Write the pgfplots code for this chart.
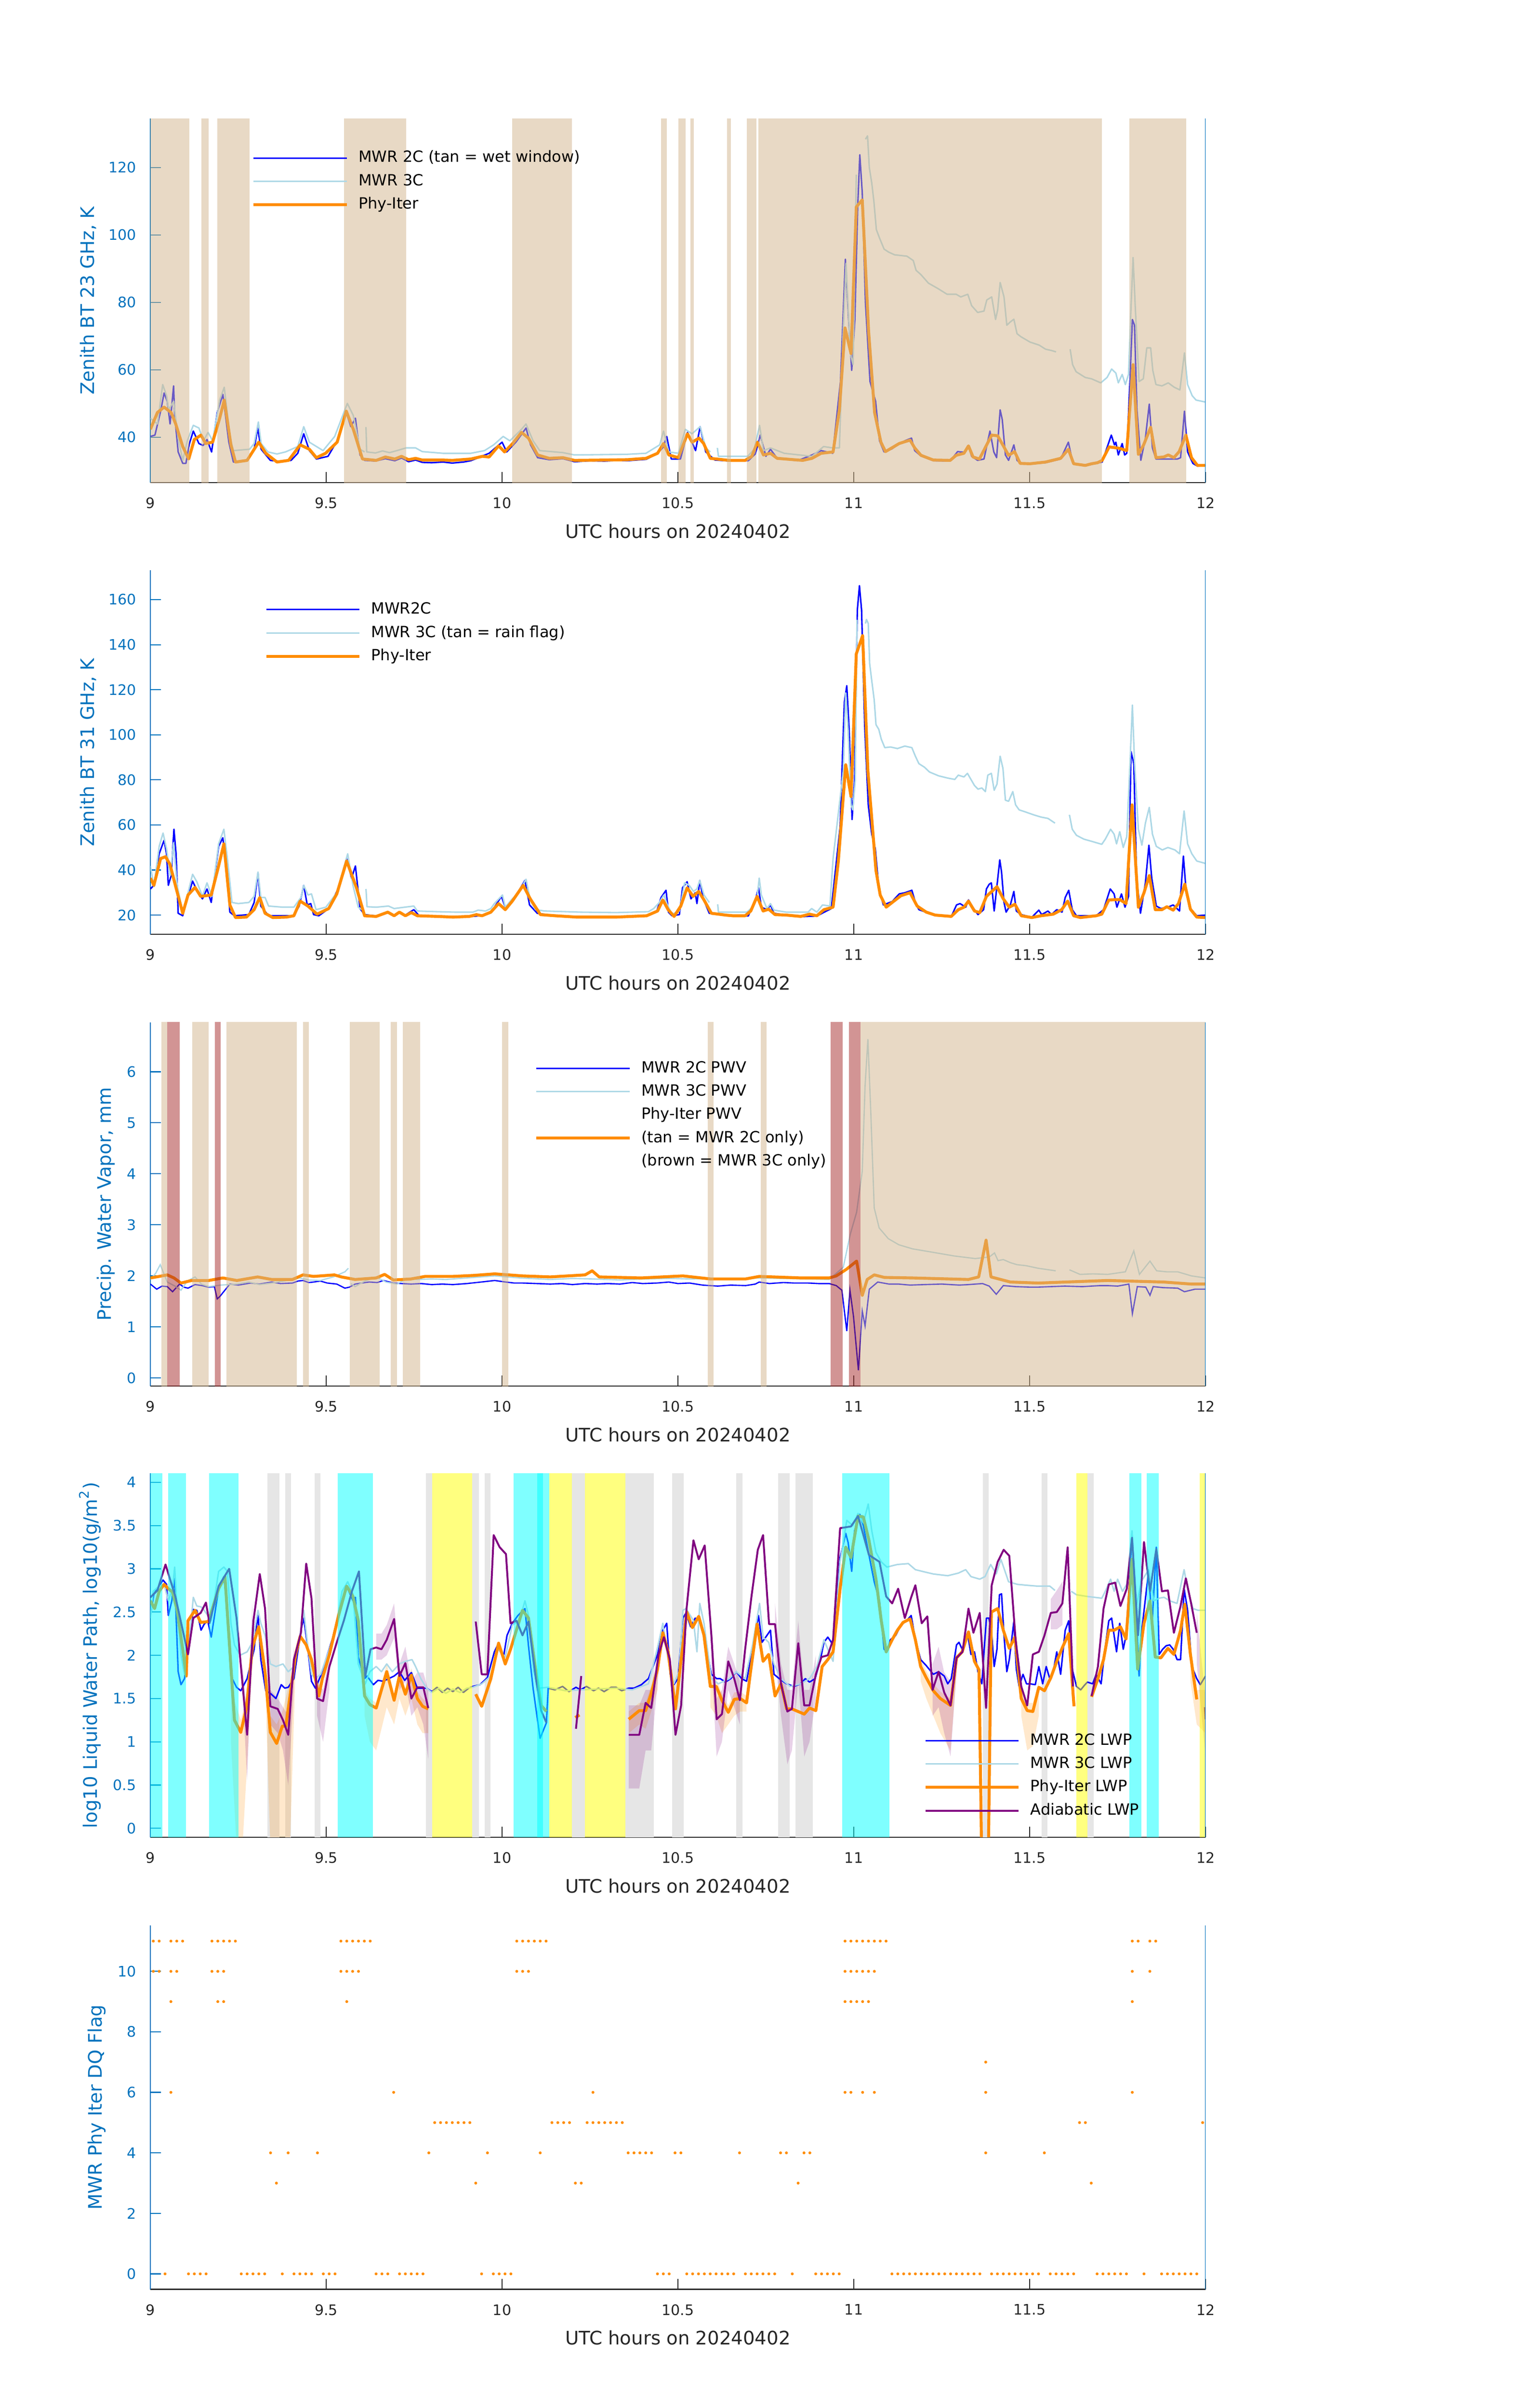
\documentclass[border=0pt]{standalone}
\usepackage{fontspec}
\setmainfont{DejaVu Sans}
\usepackage{pgfplots}
\pgfplotsset{compat=1.18}
\definecolor{mlblue}{RGB}{0,114,189}
\definecolor{axgray}{RGB}{38,38,38}
\definecolor{lb}{RGB}{173,216,230}
\definecolor{dorange}{RGB}{255,140,0}
\definecolor{tanc}{RGB}{210,180,140}
\definecolor{brownc}{RGB}{165,42,42}
\definecolor{purp}{RGB}{128,0,128}
\definecolor{gray9}{RGB}{230,230,230}
\definecolor{cyanc}{RGB}{0,255,255}
\definecolor{yellowc}{RGB}{255,255,0}
\definecolor{pureblue}{RGB}{0,0,255}
\tikzset{tanf/.style={fill=tanc,fill opacity=0.5},
 brf/.style={fill=brownc,fill opacity=0.5},
 cyf/.style={fill=cyanc,fill opacity=0.5},
 yef/.style={fill=yellowc,fill opacity=0.5},
 grf/.style={fill=gray9},
 obf/.style={fill=dorange,fill opacity=0.2},
 pbf/.style={fill=purp,fill opacity=0.18}}
\newcommand{\band}[3]{\addplot[#3,draw=none,forget plot] coordinates {(#1,\ylo) (#2,\ylo) (#2,\yhi) (#1,\yhi)} -- cycle;}
\pgfplotsset{
 mlax/.style={
  scale only axis, width=17.52cm, height=6.045cm,
  xmin=9, xmax=12, xtick={9,9.5,10,10.5,11,11.5,12},
  axis x line*=bottom, axis y line*=left,
  x axis line style={-,axgray,line width=0.5pt},
  y axis line style={-,mlblue,line width=0.5pt},
  tick align=inside, major tick length=5pt,
  xtick style={axgray,line width=0.5pt},
  ytick style={mlblue,line width=0.5pt},
  tick label style={font=\fontsize{6.85}{8}\selectfont},
  x tick label style={text=axgray,yshift=-3.6pt},
  y tick label style={text=mlblue,xshift=-3.2pt},
  /pgf/number format/assume math mode=true,
  xlabel={UTC hours on 20240402},
  xlabel style={font=\fontsize{8.8}{10}\selectfont,text=axgray,at={(axis description cs:0.5,0)},anchor=north,yshift=-16pt},
  ylabel style={font=\fontsize{8.8}{10}\selectfont,text=mlblue,yshift=-1.2pt},
  unbounded coords=jump,
  legend cell align=left,
  legend style={draw=none,fill=none,font=\fontsize{7.3}{8.5}\selectfont,inner sep=0pt,row sep=0.8pt,
    nodes={inner sep=1.5pt,text height=5.6pt,text depth=1.6pt},
    /tikz/every odd column/.append style={column sep=3.3pt}},
  legend image code/.code={\draw[##1] (0cm,0cm) -- (1.55cm,0cm);},
 },
 bl/.style={pureblue,line width=0.7pt,line join=round},
 lbl/.style={lb,line width=0.7pt,line join=round},
 orl/.style={dorange,line width=1.4pt,line join=round},
 pul/.style={purp,line width=0.9pt,line join=round},
}
\begin{document}
\begin{tikzpicture}
\path[use as bounding box] (0,0) rectangle (25.5cm,40cm);

% ---------------- Panel 1 ----------------
\def\ylo{20}\def\yhi{140}
\begin{axis}[mlax, at={(2.497cm,31.983cm)}, anchor=south west,
  ymin=26.5, ymax=134.5, ytick={40,60,80,100,120},
  ylabel={Zenith BT 23 GHz, K},
  legend style={at={(0.096,1)},anchor=north west,yshift=-13.3pt}]
\addplot[bl] coordinates {(9.0,40.2)(9.013,40.6)(9.03,48.1)(9.039,53.1)(9.048,50.6)(9.056,43.9)(9.066,55.2)(9.069,46.4)(9.079,35.6)(9.092,32.2)(9.101,32.2)(9.111,38.1)(9.122,41.8)(9.138,38.1)(9.15,37.5)(9.161,39.3)(9.174,35.6)(9.19,47.3)(9.206,52.7)(9.223,38.5)(9.236,32.6)(9.275,33.1)(9.295,36.4)(9.305,42.7)(9.315,36.4)(9.341,33.1)(9.37,32.8)(9.4,33.1)(9.419,35.2)(9.436,41.0)(9.452,36.0)(9.472,33.5)(9.505,34.3)(9.531,38.9)(9.557,47.3)(9.57,43.1)(9.583,45.6)(9.596,34.7)(9.609,33.1)(9.64,32.9)(9.668,33.6)(9.695,33.0)(9.714,33.8)(9.734,32.7)(9.754,33.2)(9.773,32.5)(9.8,32.4)(9.832,32.6)(9.858,32.3)(9.89,32.6)(9.911,33.0)(9.935,34.0)(9.963,35.2)(10.0,38.5)(10.013,35.6)(10.04,38.6)(10.068,42.7)(10.081,37.7)(10.101,33.9)(10.134,33.3)(10.173,33.6)(10.206,32.7)(10.25,33.0)(10.291,32.9)(10.33,33.1)(10.356,33.0)(10.409,33.4)(10.44,35.0)(10.458,37.0)(10.468,40.2)(10.481,33.5)(10.507,33.5)(10.527,41.4)(10.54,38.5)(10.55,36.0)(10.563,43.1)(10.579,35.6)(10.605,33.2)(10.65,32.9)(10.7,33.0)(10.72,35.0)(10.734,40.6)(10.75,34.3)(10.763,36.4)(10.782,33.7)(10.84,33.0)(10.881,34.7)(10.907,36.0)(10.94,35.2)(10.962,56.5)(10.976,92.8)(10.985,74.9)(10.994,59.8)(11.003,74.9)(11.011,108.3)(11.017,123.8)(11.024,112.5)(11.033,79.9)(11.046,56.5)(11.062,50.6)(11.073,38.9)(11.086,35.6)(11.108,36.5)(11.129,38.0)(11.147,39.0)(11.164,39.7)(11.173,36.0)(11.191,34.4)(11.226,33.0)(11.274,32.9)(11.295,35.7)(11.313,35.5)(11.326,37.4)(11.335,34.3)(11.352,33.1)(11.37,33.5)(11.387,41.8)(11.398,35.6)(11.406,33.9)(11.416,48.1)(11.422,45.2)(11.431,34.7)(11.44,33.1)(11.455,37.7)(11.464,33.1)(11.475,32.2)(11.501,32.0)(11.545,32.4)(11.588,33.5)(11.61,38.5)(11.623,32.2)(11.658,31.5)(11.706,32.6)(11.732,40.6)(11.741,37.7)(11.745,38.5)(11.752,34.7)(11.763,38.1)(11.77,34.7)(11.776,35.2)(11.785,56.5)(11.792,74.9)(11.798,73.2)(11.805,48.1)(11.816,33.1)(11.829,39.7)(11.84,49.8)(11.849,36.8)(11.859,33.5)(11.92,33.5)(11.929,33.9)(11.94,47.7)(11.949,35.6)(11.964,32.2)(11.977,31.4)(12.0,31.6)};
\addlegendentry{MWR 2C (tan = wet window)}
\addplot[lbl] coordinates {(9.0,45.6)(9.02,43.9)(9.035,55.6)(9.046,52.3)(9.052,48.1)(9.066,50.6)(9.079,39.7)(9.092,33.1)(9.105,38.9)(9.122,43.5)(9.138,42.7)(9.151,38.9)(9.164,41.4)(9.177,38.9)(9.197,51.0)(9.21,54.8)(9.227,39.7)(9.236,36.0)(9.282,36.4)(9.295,38.1)(9.307,44.5)(9.315,38.1)(9.334,35.6)(9.36,35.0)(9.384,35.6)(9.419,37.2)(9.436,43.1)(9.452,38.5)(9.491,36.0)(9.524,40.2)(9.56,50.0)(9.577,46.4)(9.596,36.4)(9.609,35.6)(9.612,nan)(9.613,43.0)(9.615,35.6)(9.64,35.3)(9.66,35.9)(9.68,35.4)(9.701,36.0)(9.727,36.8)(9.754,36.8)(9.773,35.7)(9.832,35.2)(9.911,35.2)(9.95,36.0)(9.976,37.7)(10.003,40.2)(10.022,38.9)(10.055,42.3)(10.068,43.9)(10.088,38.9)(10.107,36.0)(10.173,35.4)(10.206,34.7)(10.356,34.9)(10.409,35.2)(10.448,37.7)(10.459,41.8)(10.474,35.6)(10.501,35.2)(10.521,42.3)(10.54,41.0)(10.563,43.1)(10.579,36.8)(10.592,35.6)(10.6,nan)(10.612,36.8)(10.615,34.3)(10.698,34.3)(10.717,36.4)(10.732,43.5)(10.743,36.0)(10.763,36.8)(10.802,35.2)(10.881,34.3)(10.914,37.2)(10.94,36.8)(10.959,36.8)(10.969,69.0)(10.978,91.6)(10.99,64.8)(10.998,61.5)(11.007,117.9)(11.02,nan)(11.033,128.4)(11.039,129.4)(11.044,120.0)(11.051,115.4)(11.057,110.0)(11.064,101.6)(11.073,99.1)(11.086,95.8)(11.099,94.9)(11.116,94.1)(11.151,93.7)(11.169,92.4)(11.177,89.5)(11.191,88.2)(11.212,85.7)(11.239,84.1)(11.265,82.4)(11.291,82.4)(11.304,81.6)(11.324,82.4)(11.335,79.0)(11.352,77.0)(11.37,77.4)(11.378,80.7)(11.392,81.6)(11.403,74.9)(11.409,77.8)(11.416,85.9)(11.427,81.6)(11.435,73.2)(11.444,74.1)(11.455,75.0)(11.464,70.7)(11.475,69.8)(11.501,68.2)(11.527,67.3)(11.545,66.1)(11.562,65.7)(11.575,65.3)(11.595,nan)(11.615,66.1)(11.622,61.5)(11.632,59.4)(11.658,57.7)(11.676,57.3)(11.702,56.1)(11.72,57.7)(11.733,60.2)(11.745,59.0)(11.752,56.1)(11.763,58.6)(11.772,55.6)(11.781,58.6)(11.788,78.2)(11.794,93.3)(11.8,79.0)(11.811,56.5)(11.823,57.3)(11.833,66.5)(11.844,66.5)(11.85,59.8)(11.859,55.6)(11.876,55.2)(11.894,56.1)(11.911,54.8)(11.927,54.0)(11.94,65.0)(11.949,55.6)(11.962,52.3)(11.973,51.0)(12.0,50.4)};
\addlegendentry{MWR 3C}
\addplot[orl] coordinates {(9.0,42.3)(9.02,47.3)(9.039,48.9)(9.059,47.3)(9.072,43.9)(9.092,37.2)(9.109,33.5)(9.125,39.3)(9.144,40.6)(9.157,38.1)(9.177,38.5)(9.197,45.6)(9.21,51.0)(9.229,37.7)(9.242,32.6)(9.275,33.1)(9.308,38.5)(9.328,35.2)(9.36,32.6)(9.393,33.1)(9.426,37.7)(9.452,36.4)(9.472,33.9)(9.498,35.2)(9.531,38.5)(9.557,47.7)(9.577,42.3)(9.603,33.5)(9.642,33.1)(9.668,34.1)(9.695,33.5)(9.714,34.3)(9.734,33.3)(9.754,33.7)(9.773,33.2)(9.832,33.2)(9.858,33.1)(9.911,33.5)(9.944,34.3)(9.963,34.1)(9.99,37.4)(10.007,35.6)(10.03,38.1)(10.055,41.4)(10.075,39.7)(10.101,34.7)(10.134,33.7)(10.173,33.9)(10.206,33.1)(10.291,33.2)(10.356,33.3)(10.409,33.7)(10.442,35.2)(10.459,38.1)(10.474,34.7)(10.501,33.9)(10.527,41.0)(10.54,38.5)(10.56,39.7)(10.573,38.1)(10.592,33.7)(10.645,33.1)(10.691,33.1)(10.71,34.3)(10.726,38.5)(10.743,34.7)(10.763,35.2)(10.782,33.7)(10.841,33.2)(10.855,33.1)(10.881,33.7)(10.907,35.2)(10.941,35.6)(10.959,48.1)(10.975,72.4)(10.992,64.8)(11.007,108.3)(11.024,110.4)(11.042,71.5)(11.059,47.3)(11.077,38.5)(11.09,35.7)(11.108,36.8)(11.129,38.1)(11.147,38.7)(11.16,39.1)(11.173,36.8)(11.191,34.6)(11.226,33.2)(11.274,33.1)(11.291,34.6)(11.313,35.2)(11.326,37.4)(11.339,34.1)(11.357,33.5)(11.392,40.6)(11.409,40.4)(11.44,34.6)(11.457,35.7)(11.473,32.2)(11.501,32.1)(11.545,32.6)(11.588,33.7)(11.61,36.4)(11.625,32.1)(11.658,31.6)(11.676,32.1)(11.693,32.4)(11.706,33.1)(11.726,37.1)(11.754,36.7)(11.776,36.0)(11.794,61.5)(11.809,34.9)(11.824,37.7)(11.844,42.9)(11.859,33.9)(11.881,34.1)(11.894,34.7)(11.91,33.9)(11.925,35.7)(11.944,40.6)(11.96,33.9)(11.977,31.6)(12.0,31.6)};
\addlegendentry{Phy-Iter}
\band{9.0}{9.111}{tanf}\band{9.145}{9.166}{tanf}\band{9.19}{9.282}{tanf}\band{9.55}{9.727}{tanf}
\band{10.029}{10.199}{tanf}\band{10.452}{10.468}{tanf}\band{10.501}{10.522}{tanf}\band{10.535}{10.545}{tanf}
\band{10.64}{10.651}{tanf}\band{10.696}{10.723}{tanf}\band{10.729}{11.705}{tanf}\band{11.784}{11.945}{tanf}
\draw[mlblue,line width=0.5pt] (rel axis cs:1,0) -- (rel axis cs:1,1);
\end{axis}

% ---------------- Panel 2 ----------------
\begin{axis}[mlax, at={(2.497cm,24.481cm)}, anchor=south west,
  ymin=11.5, ymax=173, ytick={20,40,60,80,100,120,140,160},
  ylabel={Zenith BT 31 GHz, K},
  legend style={at={(0.108,1)},anchor=north west,yshift=-13.3pt}]
\addplot[bl] coordinates {(9.0,31.6)(9.01,33.2)(9.025,47.2)(9.039,53.2)(9.046,47.2)(9.051,33.2)(9.059,37.5)(9.067,58.1)(9.073,47.2)(9.079,20.8)(9.092,19.7)(9.102,25.6)(9.12,35.1)(9.132,31.0)(9.148,27.2)(9.161,31.6)(9.173,25.6)(9.194,50.5)(9.206,54.3)(9.216,41.8)(9.226,21.3)(9.239,19.7)(9.28,20.2)(9.295,25.6)(9.306,38.6)(9.314,24.0)(9.336,19.7)(9.408,19.7)(9.423,24.0)(9.436,33.2)(9.446,24.5)(9.456,25.1)(9.464,20.2)(9.479,19.7)(9.507,22.9)(9.535,32.1)(9.558,45.1)(9.572,36.4)(9.583,41.8)(9.596,22.9)(9.609,20.2)(9.642,19.6)(9.675,21.0)(9.693,19.9)(9.708,21.0)(9.725,20.0)(9.749,22.4)(9.764,19.7)(9.815,19.3)(9.861,19.0)(9.907,19.3)(9.943,19.8)(9.968,21.0)(9.998,28.3)(10.009,23.5)(10.029,25.8)(10.065,35.4)(10.078,24.5)(10.1,20.8)(10.151,19.6)(10.212,19.0)(10.324,19.0)(10.411,19.6)(10.44,21.8)(10.452,27.8)(10.466,31.0)(10.473,21.3)(10.483,19.7)(10.504,20.2)(10.513,32.1)(10.526,34.8)(10.537,27.2)(10.549,29.9)(10.554,25.1)(10.562,35.4)(10.572,27.2)(10.589,20.8)(10.635,19.9)(10.7,19.6)(10.722,27.8)(10.729,32.1)(10.737,23.5)(10.753,22.4)(10.763,24.5)(10.773,20.8)(10.808,19.9)(10.849,19.3)(10.895,19.6)(10.936,22.9)(10.961,59.1)(10.973,114.3)(10.98,121.8)(10.987,101.3)(10.995,62.4)(11.002,79.7)(11.01,155.4)(11.016,166.2)(11.022,155.4)(11.031,103.5)(11.041,68.9)(11.051,55.9)(11.061,49.4)(11.071,32.1)(11.084,24.5)(11.109,26.0)(11.129,29.4)(11.145,29.9)(11.165,31.0)(11.175,25.6)(11.185,22.4)(11.231,19.9)(11.277,19.3)(11.292,24.5)(11.302,25.1)(11.318,23.5)(11.326,26.7)(11.338,23.5)(11.353,20.2)(11.369,22.4)(11.377,31.6)(11.385,33.7)(11.391,34.3)(11.399,21.8)(11.406,31.6)(11.415,44.5)(11.42,39.1)(11.427,25.6)(11.433,21.3)(11.445,24.5)(11.455,30.5)(11.462,21.8)(11.476,20.2)(11.506,19.0)(11.526,22.2)(11.534,20.2)(11.552,21.8)(11.562,20.2)(11.577,22.4)(11.592,21.3)(11.601,27.8)(11.611,31.0)(11.621,22.4)(11.633,19.7)(11.689,19.7)(11.71,22.4)(11.729,31.6)(11.74,29.4)(11.748,23.5)(11.761,29.4)(11.771,23.5)(11.781,28.3)(11.788,92.6)(11.796,87.2)(11.804,36.4)(11.815,20.8)(11.829,34.3)(11.839,51.0)(11.847,36.4)(11.86,24.0)(11.873,22.9)(11.893,23.5)(11.908,24.5)(11.926,21.8)(11.937,46.2)(11.944,32.1)(11.954,23.5)(11.975,19.7)(12.0,20.0)};
\addlegendentry{MWR2C}
\addplot[lbl] coordinates {(9.0,41.8)(9.01,32.6)(9.025,50.5)(9.036,56.4)(9.046,49.4)(9.056,37.5)(9.066,52.1)(9.076,33.2)(9.092,21.3)(9.107,29.9)(9.12,38.1)(9.132,34.8)(9.148,28.3)(9.161,34.3)(9.175,28.3)(9.194,51.6)(9.209,58.1)(9.22,43.5)(9.232,25.6)(9.25,25.1)(9.28,25.6)(9.295,28.3)(9.306,39.1)(9.314,27.8)(9.326,27.8)(9.336,24.0)(9.377,23.5)(9.408,23.5)(9.428,27.8)(9.436,33.2)(9.448,28.9)(9.458,29.4)(9.471,22.4)(9.499,23.5)(9.53,29.9)(9.561,47.2)(9.576,33.2)(9.591,23.5)(9.605,22.0)(9.61,nan)(9.613,31.6)(9.616,23.7)(9.642,23.5)(9.677,24.0)(9.693,22.9)(9.723,23.5)(9.749,24.0)(9.759,21.8)(9.815,21.5)(9.866,21.3)(9.917,21.3)(9.932,22.2)(9.953,21.8)(9.968,22.9)(9.978,25.1)(10.001,28.9)(10.009,23.5)(10.029,27.2)(10.045,29.4)(10.068,35.9)(10.08,26.7)(10.095,22.4)(10.121,21.8)(10.223,21.3)(10.324,21.1)(10.416,21.5)(10.431,22.9)(10.447,25.6)(10.46,28.9)(10.47,24.5)(10.483,20.4)(10.504,21.8)(10.519,34.3)(10.532,33.2)(10.544,30.5)(10.554,31.6)(10.562,35.4)(10.574,28.9)(10.589,25.6)(10.6,nan)(10.613,24.8)(10.615,21.3)(10.666,21.3)(10.696,21.3)(10.712,23.5)(10.725,27.8)(10.731,36.4)(10.737,28.9)(10.753,22.9)(10.763,25.1)(10.773,22.2)(10.808,21.3)(10.87,21.3)(10.88,22.9)(10.895,21.3)(10.911,24.5)(10.932,24.0)(10.941,45.1)(10.97,84.0)(10.977,118.6)(10.984,101.3)(10.992,68.9)(10.997,66.7)(11.004,79.7)(11.009,151.0)(11.02,nan)(11.033,149.4)(11.036,151.2)(11.041,149.4)(11.045,131.6)(11.051,124.0)(11.058,115.4)(11.063,104.5)(11.071,102.4)(11.078,98.1)(11.088,94.3)(11.104,94.6)(11.124,93.9)(11.145,95.0)(11.165,94.3)(11.175,90.5)(11.185,87.2)(11.201,85.6)(11.215,83.5)(11.241,81.8)(11.267,80.8)(11.287,80.2)(11.297,82.1)(11.313,81.3)(11.323,82.9)(11.333,80.2)(11.343,77.5)(11.353,75.9)(11.364,76.4)(11.374,74.8)(11.381,82.1)(11.391,82.9)(11.399,75.4)(11.407,78.1)(11.416,90.5)(11.424,85.1)(11.431,71.0)(11.44,70.5)(11.452,74.8)(11.46,68.9)(11.47,66.7)(11.491,65.6)(11.511,64.5)(11.532,63.5)(11.552,62.9)(11.572,60.8)(11.59,nan)(11.613,64.5)(11.621,58.1)(11.633,55.4)(11.654,53.7)(11.679,52.6)(11.705,51.4)(11.715,53.7)(11.73,58.1)(11.74,55.9)(11.747,51.6)(11.756,57.0)(11.766,50.0)(11.776,54.8)(11.786,90.5)(11.792,113.2)(11.798,88.3)(11.809,58.1)(11.819,51.0)(11.829,60.8)(11.84,67.8)(11.849,55.9)(11.86,50.5)(11.877,48.9)(11.893,50.0)(11.913,48.9)(11.926,47.2)(11.939,66.2)(11.949,51.6)(11.961,47.2)(11.975,44.0)(12.0,42.9)};
\addlegendentry{MWR 3C (tan = rain flag)}
\addplot[orl] coordinates {(9.0,36.4)(9.01,33.2)(9.029,45.1)(9.043,45.9)(9.056,42.4)(9.071,33.2)(9.092,20.8)(9.107,28.9)(9.127,32.3)(9.143,28.3)(9.173,28.9)(9.194,41.8)(9.209,51.6)(9.226,24.5)(9.242,18.9)(9.273,19.1)(9.295,22.4)(9.311,27.8)(9.326,20.8)(9.348,18.9)(9.387,19.1)(9.408,19.7)(9.426,26.2)(9.448,24.0)(9.474,20.4)(9.507,22.9)(9.53,29.4)(9.558,44.0)(9.586,32.1)(9.609,19.7)(9.642,19.4)(9.675,21.3)(9.693,19.7)(9.708,21.3)(9.725,19.7)(9.742,21.1)(9.759,19.7)(9.815,19.4)(9.861,19.1)(9.907,19.4)(9.927,20.2)(9.943,19.7)(9.968,21.3)(9.99,25.1)(10.009,22.4)(10.029,26.2)(10.06,33.2)(10.08,27.2)(10.109,20.2)(10.151,19.7)(10.212,19.1)(10.324,19.1)(10.411,19.7)(10.442,21.8)(10.457,26.7)(10.472,22.4)(10.489,19.4)(10.508,24.0)(10.526,32.1)(10.543,28.3)(10.559,30.5)(10.574,26.7)(10.595,20.8)(10.635,20.0)(10.656,19.7)(10.691,19.7)(10.707,21.8)(10.725,28.3)(10.742,21.8)(10.758,22.6)(10.776,20.2)(10.808,20.0)(10.849,19.4)(10.874,20.4)(10.895,19.7)(10.915,22.4)(10.941,23.5)(10.956,44.0)(10.977,86.7)(10.992,72.6)(11.007,135.9)(11.025,144.0)(11.04,84.0)(11.063,39.7)(11.075,28.9)(11.092,23.5)(11.109,25.6)(11.134,28.6)(11.16,29.9)(11.18,24.0)(11.206,21.3)(11.231,20.0)(11.277,19.4)(11.297,22.4)(11.313,23.5)(11.326,26.2)(11.343,21.8)(11.358,21.1)(11.377,28.3)(11.407,32.6)(11.425,27.2)(11.442,23.5)(11.458,24.8)(11.476,19.7)(11.506,18.9)(11.532,19.7)(11.567,20.4)(11.591,22.4)(11.608,26.2)(11.625,19.7)(11.644,18.9)(11.689,19.7)(11.705,20.4)(11.725,26.7)(11.756,26.9)(11.774,25.1)(11.791,68.9)(11.809,23.5)(11.825,29.9)(11.84,37.5)(11.857,22.4)(11.876,22.4)(11.89,23.7)(11.908,22.2)(11.923,25.1)(11.941,33.7)(11.957,22.6)(11.975,19.1)(12.0,18.9)};
\addlegendentry{Phy-Iter}
\draw[mlblue,line width=0.5pt] (rel axis cs:1,0) -- (rel axis cs:1,1);
\end{axis}

% ---------------- Panel 3 ----------------
\def\ylo{-1}\def\yhi{8}
\begin{axis}[mlax, at={(2.497cm,16.974cm)}, anchor=south west,
  ymin=-0.16, ymax=6.97, ytick={0,1,2,3,4,5,6},
  ylabel={Precip. Water Vapor, mm},
  legend style={at={(0.364,1)},anchor=north west,yshift=-16.5pt}]
\addplot[pureblue,line width=0.6pt,forget plot] coordinates {(9.0,1.84)(9.018,1.74)(9.033,1.80)(9.048,1.79)(9.063,1.69)(9.083,1.84)(9.095,1.78)(9.107,1.76)(9.127,1.83)(9.147,1.81)(9.165,1.78)(9.182,1.79)(9.19,1.55)(9.198,1.60)(9.206,1.67)(9.226,1.84)(9.25,1.82)(9.285,1.86)(9.31,1.84)(9.345,1.88)(9.37,1.85)(9.404,1.86)(9.42,1.90)(9.434,1.91)(9.45,1.87)(9.464,1.88)(9.483,1.90)(9.503,1.86)(9.53,1.84)(9.553,1.76)(9.566,1.78)(9.582,1.84)(9.6,1.86)(9.622,1.88)(9.645,1.87)(9.662,1.91)(9.68,1.88)(9.691,1.86)(9.715,1.85)(9.741,1.84)(9.77,1.85)(9.8,1.83)(9.83,1.84)(9.86,1.83)(9.9,1.85)(9.94,1.88)(9.979,1.91)(10.01,1.88)(10.035,1.86)(10.058,1.86)(10.1,1.85)(10.137,1.84)(10.17,1.85)(10.2,1.83)(10.236,1.85)(10.27,1.84)(10.3,1.85)(10.335,1.84)(10.37,1.87)(10.4,1.85)(10.44,1.86)(10.474,1.88)(10.5,1.85)(10.533,1.86)(10.57,1.82)(10.613,1.80)(10.65,1.82)(10.692,1.81)(10.72,1.84)(10.731,1.88)(10.76,1.85)(10.8,1.87)(10.831,1.86)(10.87,1.86)(10.9,1.85)(10.93,1.85)(10.95,1.81)(10.966,1.72)(10.98,0.92)(10.989,1.72)(10.999,1.21)(11.013,0.15)(11.024,1.31)(11.032,1.02)(11.044,1.74)(11.068,1.88)(11.1,1.84)(11.127,1.84)(11.16,1.82)(11.2,1.83)(11.25,1.84)(11.3,1.82)(11.326,1.83)(11.366,1.85)(11.385,1.80)(11.405,1.64)(11.425,1.81)(11.46,1.79)(11.5,1.78)(11.524,1.78)(11.56,1.79)(11.6,1.80)(11.65,1.79)(11.7,1.81)(11.722,1.81)(11.75,1.80)(11.782,1.84)(11.792,1.26)(11.806,1.79)(11.83,1.78)(11.842,1.62)(11.851,1.79)(11.88,1.77)(11.921,1.76)(11.94,1.69)(11.97,1.74)(12.0,1.74)};
\addplot[lb,line width=0.6pt,forget plot] coordinates {(9.0,1.93)(9.015,2.05)(9.028,2.22)(9.048,1.88)(9.07,1.80)(9.087,1.72)(9.105,1.90)(9.127,1.98)(9.145,1.84)(9.166,1.79)(9.2,1.82)(9.246,1.84)(9.28,1.88)(9.31,1.83)(9.345,1.86)(9.38,1.90)(9.424,1.96)(9.45,1.92)(9.483,1.91)(9.52,1.98)(9.553,2.08)(9.563,2.15)(9.566,nan)(9.57,1.85)(9.582,1.79)(9.61,1.90)(9.642,1.98)(9.67,1.88)(9.701,1.84)(9.73,1.95)(9.761,1.93)(9.8,1.94)(9.84,1.93)(9.9,1.96)(9.979,2.00)(10.05,1.96)(10.137,1.93)(10.2,1.95)(10.26,1.94)(10.335,1.92)(10.4,1.94)(10.48,1.95)(10.533,1.94)(10.6,1.95)(10.67,1.94)(10.731,1.96)(10.8,1.95)(10.88,1.94)(10.93,1.93)(10.97,2.17)(10.99,2.82)(11.008,3.25)(11.024,4.05)(11.032,5.73)(11.04,6.64)(11.048,5.25)(11.058,3.33)(11.072,2.94)(11.098,2.73)(11.128,2.61)(11.167,2.53)(11.227,2.46)(11.286,2.39)(11.345,2.34)(11.385,2.37)(11.4,2.45)(11.41,2.30)(11.425,2.32)(11.445,2.26)(11.464,2.22)(11.49,2.20)(11.524,2.15)(11.574,2.10)(11.59,nan)(11.613,2.12)(11.643,2.03)(11.68,2.04)(11.722,2.03)(11.772,2.08)(11.796,2.49)(11.812,2.03)(11.842,2.29)(11.861,2.10)(11.89,2.08)(11.921,2.08)(11.96,2.00)(12.0,1.96)};
\addplot[orl,forget plot] coordinates {(9.0,1.96)(9.025,1.99)(9.048,2.02)(9.067,1.96)(9.087,1.86)(9.117,1.91)(9.166,1.91)(9.206,1.96)(9.246,1.91)(9.305,1.98)(9.345,1.93)(9.404,1.93)(9.434,2.02)(9.464,1.99)(9.523,2.02)(9.543,1.98)(9.582,1.93)(9.642,1.96)(9.666,2.03)(9.691,1.92)(9.741,1.94)(9.781,1.99)(9.86,1.99)(9.92,2.01)(9.979,2.04)(10.058,2.00)(10.137,1.98)(10.236,2.02)(10.256,2.10)(10.276,1.98)(10.395,1.96)(10.514,2.00)(10.593,1.94)(10.692,1.94)(10.731,1.99)(10.851,1.96)(10.93,1.96)(10.95,2.00)(10.979,2.13)(11.008,2.29)(11.024,1.62)(11.038,1.93)(11.058,2.02)(11.087,1.97)(11.167,1.96)(11.326,1.93)(11.355,1.98)(11.376,2.70)(11.39,1.98)(11.445,1.88)(11.524,1.86)(11.722,1.91)(11.881,1.88)(11.96,1.84)(12.0,1.84)};
\band{9.032}{9.048}{tanf}\band{9.119}{9.166}{tanf}\band{9.216}{9.416}{tanf}\band{9.434}{9.45}{tanf}
\band{9.567}{9.652}{tanf}\band{9.684}{9.701}{tanf}\band{9.717}{9.767}{tanf}\band{10.0}{10.018}{tanf}
\band{10.585}{10.601}{tanf}\band{10.736}{10.752}{tanf}\band{11.019}{12.0}{tanf}
\band{9.048}{9.083}{brf}\band{9.184}{9.2}{brf}\band{10.934}{10.968}{brf}\band{10.986}{11.019}{brf}
\addlegendimage{pureblue,line width=0.7pt}\addlegendentry{MWR 2C PWV}
\addlegendimage{lb,line width=0.7pt}\addlegendentry{MWR 3C PWV}
\addlegendimage{empty legend}\addlegendentry{Phy-Iter PWV}
\addlegendimage{dorange,line width=1.4pt}\addlegendentry{(tan = MWR 2C only)}
\addlegendimage{empty legend}\addlegendentry{(brown = MWR 3C only)}
\draw[mlblue,line width=0.5pt] (rel axis cs:1,0) -- (rel axis cs:1,1);
\end{axis}

% ---------------- Panel 4 ----------------
\def\ylo{-1}\def\yhi{5}
\begin{axis}[mlax, at={(2.497cm,9.481cm)}, anchor=south west,
  ymin=-0.104, ymax=4.104, ytick={0,0.5,1,1.5,2,2.5,3,3.5,4},
  ylabel={log10 Liquid Water Path, log10(g/m\textsuperscript{2})},
  legend style={at={(0.7327,1)},anchor=north west,yshift=-121.1pt}]
\band{9.333}{9.367}{grf}\band{9.384}{9.4}{grf}\band{9.467}{9.484}{grf}\band{9.783}{9.801}{grf}
\band{9.915}{9.934}{grf}\band{9.95}{9.967}{grf}\band{10.199}{10.235}{grf}\band{10.35}{10.432}{grf}
\band{10.484}{10.516}{grf}\band{10.666}{10.683}{grf}\band{10.785}{10.818}{grf}\band{10.834}{10.883}{grf}
\band{11.367}{11.384}{grf}\band{11.534}{11.55}{grf}\band{11.664}{11.682}{grf}
% uncertainty shading
\addplot[obf,draw=none,forget plot] coordinates {(9.229,1.6)(9.245,1.4)(9.257,1.25)(9.273,1.5)(9.29,2.15)(9.29,1.9)(9.273,0.6)(9.262,-0.2)(9.245,-0.2)(9.229,1.0)} -- cycle;
\addplot[obf,draw=none,forget plot] coordinates {(9.326,1.9)(9.341,1.3)(9.359,1.2)(9.375,1.35)(9.397,1.7)(9.413,2.05)(9.413,1.9)(9.397,-0.2)(9.375,-0.2)(9.341,-0.2)(9.33,1.2)} -- cycle;
\addplot[obf,draw=none,forget plot] coordinates {(9.609,1.6)(9.624,1.5)(9.642,1.45)(9.672,1.9)(9.693,1.55)(9.708,1.85)(9.725,1.62)(9.742,1.85)(9.759,1.58)(9.774,1.5)(9.79,1.45)(9.79,1.1)(9.774,1.1)(9.759,1.2)(9.742,1.5)(9.725,1.3)(9.708,1.5)(9.693,1.2)(9.672,1.4)(9.642,0.9)(9.624,1.0)(9.609,1.3)} -- cycle;
\addplot[obf,draw=none,forget plot] coordinates {(10.36,1.35)(10.39,1.45)(10.408,1.45)(10.424,1.65)(10.442,1.9)(10.442,1.6)(10.424,1.35)(10.408,1.15)(10.39,1.2)(10.36,1.1)} -- cycle;
\addplot[obf,draw=none,forget plot] coordinates {(10.592,1.75)(10.609,1.72)(10.625,1.56)(10.643,1.42)(10.66,1.57)(10.677,1.58)(10.695,1.53)(10.695,1.35)(10.677,1.35)(10.66,1.3)(10.643,1.2)(10.625,1.1)(10.609,1.3)(10.592,1.4)} -- cycle;
\addplot[obf,draw=none,forget plot] coordinates {(11.19,1.95)(11.206,1.82)(11.226,1.67)(11.246,1.58)(11.275,1.5)(11.292,2.05)(11.292,1.8)(11.275,0.9)(11.246,1.1)(11.226,1.3)(11.206,1.5)(11.19,1.7)} -- cycle;
\addplot[obf,draw=none,forget plot] coordinates {(11.476,1.6)(11.493,1.45)(11.509,1.45)(11.526,1.7)(11.526,1.3)(11.509,0.95)(11.493,0.9)(11.476,1.3)} -- cycle;
\addplot[obf,draw=none,forget plot] coordinates {(11.957,2.1)(11.975,1.6)(12.0,1.6)(12.0,1.1)(11.975,1.2)(11.957,1.7)} -- cycle;
\addplot[pbf,draw=none,forget plot] coordinates {(9.262,1.9)(9.275,1.3)(9.29,2.6)(9.29,2.2)(9.275,0.55)(9.262,1.6)} -- cycle;
\addplot[pbf,draw=none,forget plot] coordinates {(9.341,1.6)(9.362,1.5)(9.377,1.4)(9.392,1.3)(9.408,2.1)(9.408,1.6)(9.392,0.5)(9.377,0.9)(9.362,1.1)(9.341,1.2)} -- cycle;
\addplot[pbf,draw=none,forget plot] coordinates {(9.474,1.7)(9.491,1.6)(9.509,2.0)(9.509,1.6)(9.491,1.0)(9.474,1.3)} -- cycle;
\addplot[pbf,draw=none,forget plot] coordinates {(9.642,2.25)(9.657,2.25)(9.672,2.35)(9.693,2.6)(9.708,1.9)(9.725,2.1)(9.742,1.7)(9.759,1.8)(9.776,1.8)(9.79,1.6)(9.79,0.8)(9.776,1.2)(9.759,1.4)(9.742,1.3)(9.725,1.7)(9.708,1.6)(9.693,2.2)(9.672,2.0)(9.657,1.95)(9.642,1.95)} -- cycle;
\addplot[pbf,draw=none,forget plot] coordinates {(10.36,1.42)(10.39,1.42)(10.408,1.6)(10.424,1.6)(10.445,2.1)(10.445,1.8)(10.424,0.9)(10.408,0.9)(10.39,0.46)(10.36,0.46)} -- cycle;
\addplot[pbf,draw=none,forget plot] coordinates {(10.595,2.4)(10.61,1.5)(10.625,1.6)(10.643,2.1)(10.66,1.9)(10.676,1.7)(10.676,1.2)(10.66,1.4)(10.643,1.6)(10.625,1.0)(10.61,0.83)(10.595,1.9)} -- cycle;
\addplot[pbf,draw=none,forget plot] coordinates {(10.776,2.6)(10.793,1.9)(10.811,1.6)(10.824,1.6)(10.842,2.4)(10.859,1.6)(10.874,1.6)(10.892,2.0)(10.892,1.5)(10.874,1.0)(10.859,0.83)(10.842,1.7)(10.824,0.9)(10.811,0.74)(10.793,1.3)(10.776,2.0)} -- cycle;
\addplot[pbf,draw=none,forget plot] coordinates {(11.224,1.9)(11.241,2.1)(11.257,1.8)(11.275,1.7)(11.292,2.15)(11.292,1.8)(11.275,0.83)(11.257,1.1)(11.241,1.4)(11.224,1.3)} -- cycle;
\addplot[pbf,draw=none,forget plot] coordinates {(11.56,2.65)(11.577,2.75)(11.593,2.85)(11.593,2.35)(11.577,2.3)(11.56,2.3)} -- cycle;
\addplot[pbf,draw=none,forget plot] coordinates {(11.975,2.5)(12.0,1.5)(12.0,0.83)(11.975,1.9)} -- cycle;
% lines
\addplot[bl] coordinates {(9.0,2.46)(9.01,2.71)(9.036,2.87)(9.046,2.82)(9.051,2.46)(9.061,2.63)(9.069,2.91)(9.079,1.81)(9.087,1.66)(9.097,1.73)(9.112,2.23)(9.122,2.53)(9.132,2.52)(9.144,2.29)(9.153,2.36)(9.163,2.40)(9.173,2.21)(9.194,2.77)(9.209,2.91)(9.216,2.63)(9.229,1.76)(9.245,1.63)(9.257,1.59)(9.275,1.73)(9.295,2.07)(9.306,2.49)(9.314,1.95)(9.328,1.59)(9.341,1.56)(9.357,1.50)(9.372,1.66)(9.382,1.62)(9.392,1.63)(9.408,1.73)(9.428,2.29)(9.436,2.43)(9.448,2.07)(9.458,1.70)(9.469,1.62)(9.484,1.76)(9.499,1.95)(9.519,2.21)(9.54,2.57)(9.558,2.80)(9.576,2.63)(9.583,2.67)(9.591,1.98)(9.609,1.73)(9.616,1.76)(9.634,1.66)(9.647,1.71)(9.662,1.70)(9.693,1.76)(9.708,1.81)(9.723,1.71)(9.742,1.80)(9.759,1.62)(9.785,1.62)(9.8,1.58)(9.815,1.63)(9.83,1.57)(9.845,1.62)(9.86,1.58)(9.875,1.63)(9.89,1.57)(9.905,1.62)(9.917,1.64)(9.937,1.66)(9.958,1.74)(9.978,2.04)(9.99,2.14)(10.004,1.98)(10.014,2.23)(10.029,2.37)(10.045,2.46)(10.065,2.54)(10.075,2.11)(10.088,1.62)(10.108,1.04)(10.126,1.22)(10.131,1.62)(10.15,1.60)(10.172,1.64)(10.19,1.58)(10.21,1.63)(10.223,1.60)(10.24,1.64)(10.26,1.59)(10.274,1.62)(10.29,1.58)(10.31,1.63)(10.324,1.63)(10.34,1.59)(10.36,1.62)(10.375,1.62)(10.396,1.66)(10.416,1.73)(10.442,2.01)(10.457,2.29)(10.468,2.37)(10.478,1.78)(10.488,1.66)(10.5,1.73)(10.514,2.43)(10.523,2.49)(10.536,2.33)(10.549,2.43)(10.564,2.40)(10.574,2.23)(10.595,1.78)(10.61,1.73)(10.62,1.73)(10.635,1.69)(10.65,1.73)(10.666,1.81)(10.681,1.73)(10.695,1.70)(10.712,2.07)(10.729,2.46)(10.739,2.15)(10.753,2.23)(10.763,2.29)(10.773,1.78)(10.788,1.73)(10.809,1.67)(10.829,1.64)(10.849,1.67)(10.862,1.73)(10.874,1.69)(10.89,1.73)(10.905,1.95)(10.915,2.15)(10.926,2.21)(10.941,2.12)(10.961,3.13)(10.977,3.41)(10.984,3.30)(10.994,2.97)(11.002,3.44)(11.017,3.63)(11.027,3.50)(11.043,3.16)(11.058,2.85)(11.073,2.63)(11.086,2.07)(11.094,2.04)(11.104,2.18)(11.119,2.23)(11.134,2.35)(11.15,2.40)(11.163,2.46)(11.175,2.18)(11.19,1.95)(11.206,1.88)(11.226,1.78)(11.241,1.81)(11.257,1.76)(11.267,1.67)(11.277,1.73)(11.292,2.12)(11.299,2.15)(11.308,2.07)(11.323,2.26)(11.333,2.01)(11.343,2.04)(11.353,1.81)(11.364,1.67)(11.371,2.09)(11.377,2.43)(11.384,2.43)(11.391,2.29)(11.399,1.87)(11.407,2.07)(11.414,2.70)(11.42,2.71)(11.427,2.23)(11.435,1.81)(11.442,1.95)(11.455,2.39)(11.462,1.84)(11.47,1.64)(11.481,1.78)(11.491,1.67)(11.501,1.67)(11.516,1.66)(11.526,1.87)(11.537,1.67)(11.547,1.87)(11.557,1.73)(11.567,1.81)(11.577,2.04)(11.588,1.78)(11.601,2.29)(11.611,2.40)(11.621,1.84)(11.633,1.64)(11.645,1.60)(11.655,1.65)(11.664,1.69)(11.679,1.67)(11.689,1.78)(11.703,1.67)(11.713,2.04)(11.725,2.40)(11.733,2.43)(11.74,2.23)(11.747,2.04)(11.756,2.37)(11.766,2.07)(11.774,2.23)(11.781,2.68)(11.791,3.39)(11.798,2.91)(11.811,1.76)(11.817,2.23)(11.838,2.97)(11.848,2.37)(11.86,3.25)(11.868,2.01)(11.878,2.07)(11.888,2.11)(11.898,2.12)(11.908,2.07)(11.919,1.95)(11.929,1.95)(11.939,2.77)(11.949,2.52)(11.961,1.87)(11.975,1.73)(11.985,1.66)(12.0,1.76)};
\addlegendentry{MWR 2C LWP}
\addplot[lbl] coordinates {(9.0,2.43)(9.008,2.74)(9.025,2.80)(9.039,2.82)(9.051,2.63)(9.063,2.77)(9.069,3.02)(9.076,2.52)(9.087,2.01)(9.097,1.78)(9.112,2.23)(9.122,2.67)(9.132,2.57)(9.144,2.56)(9.153,2.52)(9.163,2.46)(9.173,2.40)(9.194,2.97)(9.209,3.02)(9.219,2.97)(9.229,2.37)(9.239,2.12)(9.255,2.00)(9.275,2.04)(9.29,2.15)(9.306,2.52)(9.314,2.37)(9.326,2.23)(9.341,1.90)(9.357,1.87)(9.377,1.90)(9.392,1.81)(9.408,1.87)(9.428,2.29)(9.436,2.52)(9.448,2.09)(9.458,1.78)(9.469,1.73)(9.484,1.78)(9.504,2.01)(9.524,2.26)(9.545,2.74)(9.561,2.85)(9.576,2.71)(9.591,1.90)(9.611,1.67)(9.624,1.81)(9.642,1.87)(9.657,1.81)(9.672,1.90)(9.688,1.81)(9.708,1.90)(9.725,1.93)(9.744,1.95)(9.754,1.87)(9.769,1.73)(9.785,1.62)(9.8,1.57)(9.82,1.62)(9.84,1.56)(9.86,1.61)(9.88,1.57)(9.9,1.62)(9.917,1.63)(9.942,1.67)(9.968,1.76)(9.988,2.07)(10.009,1.98)(10.029,2.35)(10.049,2.40)(10.065,2.63)(10.075,2.46)(10.09,1.81)(10.105,1.62)(10.131,1.63)(10.18,1.59)(10.223,1.60)(10.27,1.61)(10.324,1.62)(10.37,1.60)(10.416,1.67)(10.442,2.09)(10.457,2.37)(10.472,1.95)(10.488,1.67)(10.503,1.81)(10.514,2.52)(10.523,2.54)(10.544,2.40)(10.554,2.04)(10.562,2.60)(10.574,2.37)(10.595,1.73)(10.615,1.67)(10.646,1.73)(10.666,1.81)(10.691,1.73)(10.712,2.12)(10.732,2.60)(10.742,2.21)(10.758,2.15)(10.773,1.90)(10.793,1.73)(10.819,1.64)(10.849,1.67)(10.874,1.73)(10.895,1.87)(10.915,2.18)(10.926,2.07)(10.941,1.93)(10.961,3.08)(10.98,3.56)(10.997,3.50)(11.012,3.64)(11.027,3.53)(11.041,3.75)(11.051,3.44)(11.063,3.19)(11.078,3.08)(11.094,3.02)(11.124,3.05)(11.155,3.06)(11.175,2.99)(11.195,2.97)(11.226,2.94)(11.267,2.92)(11.297,2.95)(11.318,2.99)(11.333,2.91)(11.358,2.88)(11.373,2.91)(11.389,3.05)(11.405,2.94)(11.418,3.11)(11.43,2.97)(11.44,2.85)(11.465,2.82)(11.491,2.81)(11.521,2.80)(11.557,2.80)(11.572,2.75)(11.595,nan)(11.618,2.74)(11.633,2.70)(11.664,2.68)(11.705,2.66)(11.715,2.74)(11.73,2.88)(11.74,2.74)(11.75,2.88)(11.764,2.74)(11.776,2.82)(11.791,3.44)(11.801,2.52)(11.817,2.85)(11.838,2.99)(11.853,2.63)(11.868,2.66)(11.882,2.67)(11.898,2.63)(11.919,2.60)(11.939,2.99)(11.949,2.77)(11.964,2.54)(11.979,2.52)(12.0,2.52)};
\addlegendentry{MWR 3C LWP}
\addplot[orl] coordinates {(9.0,2.63)(9.012,2.54)(9.025,2.74)(9.039,2.82)(9.051,2.77)(9.063,2.73)(9.076,2.52)(9.092,2.07)(9.102,1.76)(9.107,2.40)(9.127,2.52)(9.143,2.38)(9.165,2.39)(9.194,2.77)(9.212,2.91)(9.239,1.25)(9.257,1.11)(9.273,1.39)(9.29,2.09)(9.308,2.33)(9.326,1.81)(9.341,1.11)(9.359,0.98)(9.375,1.18)(9.385,1.18)(9.397,1.53)(9.413,2.01)(9.426,2.22)(9.443,2.12)(9.458,1.95)(9.479,1.53)(9.489,1.73)(9.509,2.01)(9.535,2.46)(9.558,2.80)(9.576,2.68)(9.591,2.40)(9.609,1.53)(9.624,1.43)(9.642,1.39)(9.672,1.81)(9.693,1.48)(9.708,1.76)(9.725,1.55)(9.742,1.77)(9.759,1.50)(9.774,1.41)(9.79,1.38)(9.85,nan)(9.925,1.55)(9.942,1.41)(9.968,1.73)(9.99,2.14)(10.009,1.90)(10.024,2.07)(10.058,2.52)(10.075,2.43)(10.096,1.81)(10.111,1.42)(10.126,1.35)(10.17,nan)(10.208,1.28)(10.22,1.31)(10.3,nan)(10.36,1.26)(10.39,1.36)(10.408,1.36)(10.424,1.56)(10.442,1.84)(10.457,2.26)(10.472,2.04)(10.493,1.38)(10.509,1.95)(10.525,2.50)(10.541,2.32)(10.559,2.45)(10.574,2.23)(10.592,1.64)(10.609,1.64)(10.625,1.48)(10.643,1.34)(10.66,1.49)(10.677,1.50)(10.695,1.45)(10.707,1.83)(10.725,2.36)(10.742,1.93)(10.758,2.01)(10.776,1.53)(10.793,1.67)(10.809,1.38)(10.824,1.38)(10.859,1.32)(10.874,1.39)(10.892,1.36)(10.91,1.87)(10.926,1.95)(10.941,2.04)(10.961,2.77)(10.977,3.25)(10.992,3.13)(11.012,3.61)(11.027,3.60)(11.043,3.33)(11.063,2.88)(11.078,2.40)(11.092,2.04)(11.109,2.18)(11.124,2.29)(11.14,2.38)(11.16,2.42)(11.175,2.18)(11.19,1.87)(11.206,1.74)(11.226,1.59)(11.246,1.50)(11.275,1.42)(11.292,1.97)(11.308,2.04)(11.326,2.27)(11.343,1.93)(11.356,1.83)(11.364,-0.5)(11.382,-0.5)(11.391,2.50)(11.409,2.54)(11.425,2.29)(11.442,2.08)(11.458,2.21)(11.476,1.50)(11.493,1.36)(11.509,1.35)(11.526,1.63)(11.542,1.59)(11.56,1.74)(11.577,1.93)(11.593,2.09)(11.611,2.25)(11.626,1.41)(11.65,nan)(11.676,1.52)(11.694,1.73)(11.71,1.95)(11.725,2.29)(11.74,2.29)(11.758,2.33)(11.774,2.19)(11.791,3.11)(11.807,1.84)(11.825,2.37)(11.842,2.63)(11.857,1.98)(11.873,1.97)(11.893,2.08)(11.91,2.01)(11.929,2.29)(11.941,2.59)(11.957,2.01)(11.975,1.49)};
\addlegendentry{Phy-Iter LWP}
\addplot[pul] coordinates {(9.0,2.67)(9.02,2.75)(9.043,3.05)(9.071,2.68)(9.107,2.01)(9.122,2.43)(9.143,2.49)(9.158,2.61)(9.168,2.37)(9.194,2.80)(9.224,3.00)(9.245,2.43)(9.275,1.08)(9.293,2.40)(9.311,2.94)(9.326,2.54)(9.341,1.41)(9.362,1.38)(9.377,1.25)(9.392,1.08)(9.408,1.95)(9.428,2.26)(9.443,3.06)(9.458,2.66)(9.474,1.50)(9.491,1.47)(9.509,1.87)(9.53,2.15)(9.55,2.40)(9.573,2.74)(9.593,2.97)(9.611,1.76)(9.626,2.07)(9.642,2.09)(9.657,2.07)(9.672,2.18)(9.693,2.42)(9.708,1.76)(9.725,1.91)(9.742,1.50)(9.759,1.63)(9.776,1.63)(9.79,1.39)(9.85,nan)(9.925,2.39)(9.942,1.78)(9.958,1.78)(9.976,3.39)(9.993,3.25)(10.011,3.17)(10.024,2.37)(10.041,2.40)(10.058,2.23)(10.075,2.39)(10.096,1.73)(10.111,1.36)(10.126,1.22)(10.17,nan)(10.21,1.15)(10.225,1.76)(10.3,nan)(10.36,1.08)(10.39,1.08)(10.408,1.45)(10.424,1.39)(10.445,2.01)(10.46,2.21)(10.477,1.95)(10.493,1.08)(10.509,1.42)(10.524,2.52)(10.544,3.33)(10.559,3.11)(10.576,3.27)(10.595,2.23)(10.61,1.26)(10.625,1.32)(10.643,1.93)(10.66,1.73)(10.676,1.48)(10.691,2.07)(10.709,2.68)(10.727,3.22)(10.742,3.39)(10.759,2.36)(10.776,2.36)(10.793,1.67)(10.811,1.35)(10.824,1.38)(10.842,2.14)(10.859,1.42)(10.874,1.42)(10.892,1.78)(10.908,1.98)(10.926,2.00)(10.941,2.18)(10.961,3.47)(10.992,3.49)(11.012,3.61)(11.043,3.16)(11.073,3.08)(11.092,2.68)(11.109,2.60)(11.126,2.77)(11.145,2.43)(11.163,2.67)(11.175,2.81)(11.193,2.37)(11.209,2.45)(11.224,1.60)(11.241,1.81)(11.257,1.57)(11.275,1.42)(11.292,1.97)(11.309,2.04)(11.326,2.54)(11.34,2.26)(11.358,2.49)(11.376,1.39)(11.392,2.81)(11.409,3.08)(11.426,3.22)(11.442,3.15)(11.46,2.18)(11.476,1.64)(11.493,1.42)(11.509,2.01)(11.526,2.04)(11.542,2.23)(11.56,2.49)(11.577,2.50)(11.593,2.60)(11.608,3.25)(11.623,1.64)(11.65,nan)(11.676,1.53)(11.694,1.87)(11.71,2.54)(11.725,2.82)(11.743,2.84)(11.758,2.57)(11.776,2.77)(11.791,3.36)(11.808,2.23)(11.825,3.31)(11.842,2.74)(11.86,3.23)(11.876,2.74)(11.893,2.75)(11.91,2.26)(11.929,2.57)(11.944,2.89)(11.959,2.60)(11.975,2.26)(11.99,nan)(11.998,1.40)(12.0,1.26)};
\addlegendentry{Adiabatic LWP}
\band{9.0}{9.034}{cyf}\band{9.051}{9.101}{cyf}\band{9.167}{9.251}{cyf}\band{9.533}{9.633}{cyf}
\band{10.033}{10.134}{cyf}\band{10.1}{10.116}{cyf}\band{10.967}{11.101}{cyf}\band{11.784}{11.817}{cyf}\band{11.833}{11.867}{cyf}
\band{9.801}{9.915}{yef}\band{10.134}{10.199}{yef}\band{10.235}{10.35}{yef}\band{11.633}{11.664}{yef}\band{11.984}{12.0}{yef}
\draw[mlblue,line width=0.5pt] (rel axis cs:1,0) -- (rel axis cs:1,1);
\end{axis}

% ---------------- Panel 5 ----------------
\begin{axis}[mlax, at={(2.497cm,1.972cm)}, anchor=south west,
  ymin=-0.51, ymax=11.52, ytick={0,2,4,6,8,10},
  ylabel={MWR Phy Iter DQ Flag}]
\addplot[dorange, only marks, mark=*, mark size=0.62pt, mark options={draw=dorange,fill=dorange,line width=0.1pt}] coordinates {
(9.00833,11)(9.025,11)(9.05833,11)(9.075,11)(9.09167,11)(9.175,11)(9.19167,11)(9.20833,11)(9.225,11)(9.24167,11)(9.54167,11)(9.55833,11)(9.575,11)(9.59167,11)(9.60833,11)(9.625,11)(10.04167,11)(10.05833,11)(10.075,11)(10.09167,11)(10.10833,11)(10.125,11)(10.975,11)(10.99167,11)(11.00833,11)(11.025,11)(11.04167,11)(11.05833,11)(11.075,11)(11.09167,11)(11.79167,11)(11.80833,11)(11.84167,11)(11.85833,11)
(9.00833,10)(9.025,10)(9.05833,10)(9.075,10)(9.175,10)(9.19167,10)(9.20833,10)(9.54167,10)(9.55833,10)(9.575,10)(9.59167,10)(10.04167,10)(10.05833,10)(10.075,10)(10.975,10)(10.99167,10)(11.00833,10)(11.025,10)(11.04167,10)(11.05833,10)(11.79167,10)(11.84167,10)
(9.05833,9)(9.19167,9)(9.20833,9)(9.55833,9)(10.975,9)(10.99167,9)(11.00833,9)(11.025,9)(11.04167,9)(11.79167,9)
(11.375,7)
(9.05833,6)(9.69167,6)(10.25833,6)(10.975,6)(10.99167,6)(11.025,6)(11.05833,6)(11.375,6)(11.79167,6)
(9.80833,5)(9.825,5)(9.84167,5)(9.85833,5)(9.875,5)(9.89167,5)(9.90833,5)(10.14167,5)(10.15833,5)(10.175,5)(10.19167,5)(10.24167,5)(10.25833,5)(10.275,5)(10.29167,5)(10.30833,5)(10.325,5)(10.34167,5)(11.64167,5)(11.65833,5)(11.99167,5)
(9.34167,4)(9.39167,4)(9.475,4)(9.79167,4)(9.95833,4)(10.10833,4)(10.35833,4)(10.375,4)(10.39167,4)(10.40833,4)(10.425,4)(10.49167,4)(10.50833,4)(10.675,4)(10.79167,4)(10.80833,4)(10.85833,4)(10.875,4)(11.375,4)(11.54167,4)
(9.35833,3)(9.925,3)(10.20833,3)(10.225,3)(10.84167,3)(11.675,3)
(9.04167,0)(9.10833,0)(9.125,0)(9.14167,0)(9.15833,0)(9.25833,0)(9.275,0)(9.29167,0)(9.30833,0)(9.325,0)(9.375,0)(9.40833,0)(9.425,0)(9.44167,0)(9.45833,0)(9.49167,0)(9.50833,0)(9.525,0)(9.64167,0)(9.65833,0)(9.675,0)(9.70833,0)(9.725,0)(9.74167,0)(9.75833,0)(9.775,0)(9.94167,0)(9.975,0)(9.99167,0)(10.00833,0)(10.025,0)(10.44167,0)(10.45833,0)(10.475,0)(10.525,0)(10.54167,0)(10.55833,0)(10.575,0)(10.59167,0)(10.60833,0)(10.625,0)(10.64167,0)(10.65833,0)(10.69167,0)(10.70833,0)(10.725,0)(10.74167,0)(10.75833,0)(10.775,0)(10.825,0)(10.89167,0)(10.90833,0)(10.925,0)(10.94167,0)(10.95833,0)(11.10833,0)(11.125,0)(11.14167,0)(11.15833,0)(11.175,0)(11.19167,0)(11.20833,0)(11.225,0)(11.24167,0)(11.25833,0)(11.275,0)(11.29167,0)(11.30833,0)(11.325,0)(11.34167,0)(11.35833,0)(11.39167,0)(11.40833,0)(11.425,0)(11.44167,0)(11.45833,0)(11.475,0)(11.49167,0)(11.50833,0)(11.525,0)(11.55833,0)(11.575,0)(11.59167,0)(11.60833,0)(11.625,0)(11.69167,0)(11.70833,0)(11.725,0)(11.74167,0)(11.75833,0)(11.775,0)(11.825,0)(11.875,0)(11.89167,0)(11.90833,0)(11.925,0)(11.94167,0)(11.95833,0)(11.975,0)(12.00833,0)
};
\draw[mlblue,line width=0.5pt] (rel axis cs:1,0) -- (rel axis cs:1,1);
\end{axis}
\end{tikzpicture}
\end{document}
